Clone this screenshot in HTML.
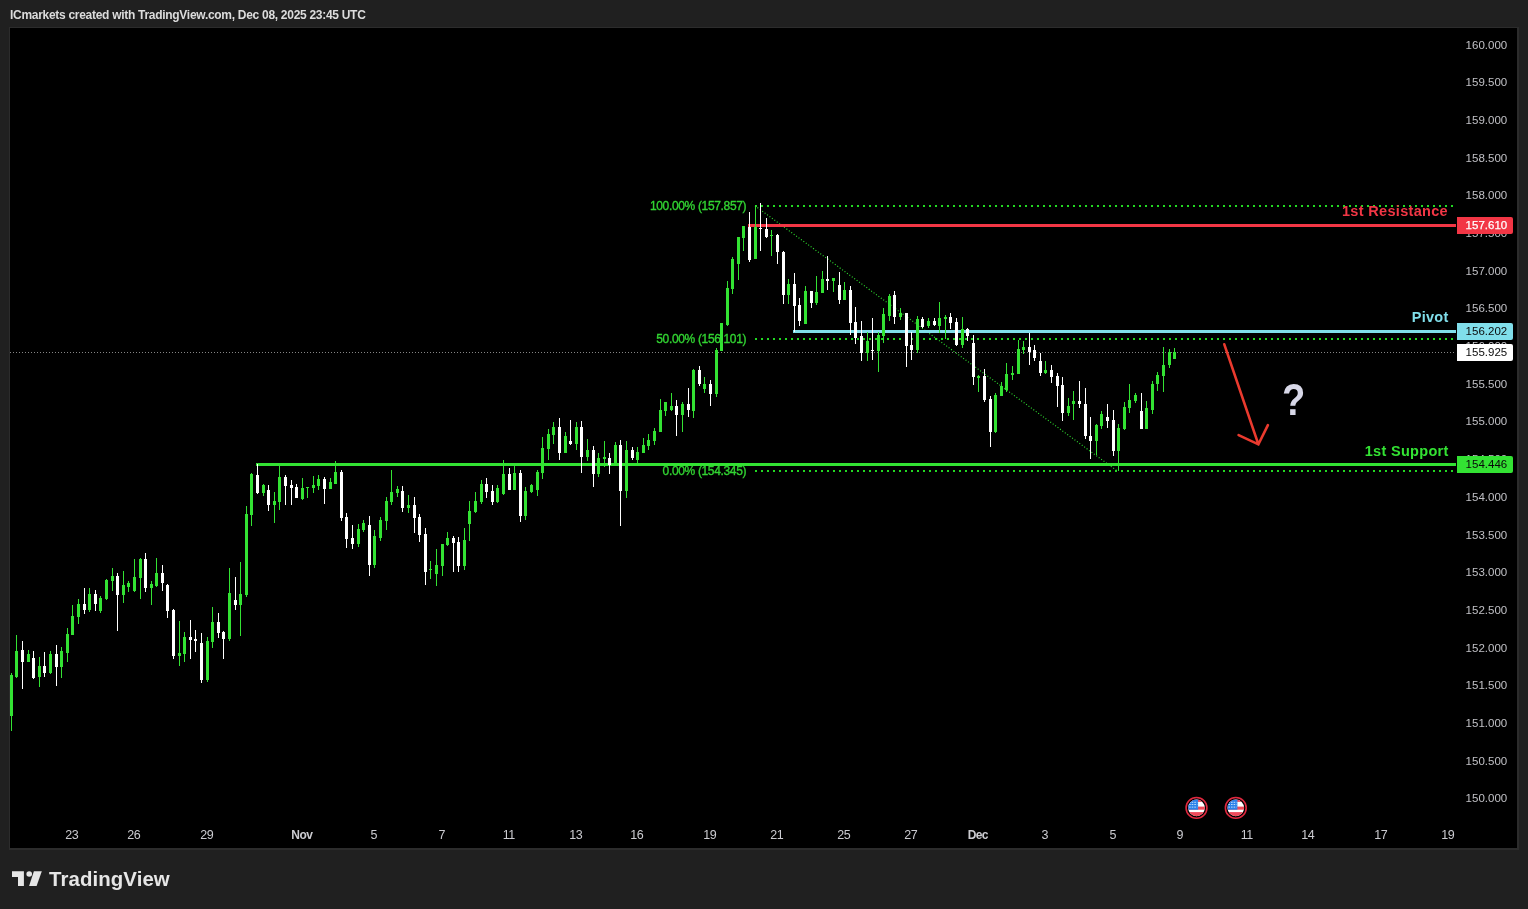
<!DOCTYPE html><html><head><meta charset="utf-8"><title>USDJPY chart</title><style>
html,body{margin:0;padding:0;background:#202020;}
body{width:1528px;height:909px;overflow:hidden;position:relative;font-family:"Liberation Sans",sans-serif;}
svg{position:absolute;left:0;top:0;}
.t{position:absolute;white-space:nowrap;line-height:1;}
.hdr{left:10px;top:8.6px;font-size:12px;font-weight:bold;color:#dcdcdc;letter-spacing:-0.29px;}
.ax{font-size:11.5px;letter-spacing:0px;color:#c0c0c5;width:50.2px;left:1457px;text-align:right;}
.pl{font-size:11.5px;letter-spacing:0px;width:50.2px;padding-right:5.8px;left:1457px;text-align:right;}
.tm{font-size:12.5px;letter-spacing:-0.4px;color:#cbcbd0;transform:translateX(-50%);}
.fib{font-size:12px;letter-spacing:-0.34px;-webkit-text-stroke:0.35px #32d432;color:#32d432;text-align:right;}
.lbl{font-size:14.5px;letter-spacing:0.32px;font-weight:bold;text-align:right;}
.tv{left:49px;top:868.6px;font-size:20.4px;font-weight:bold;color:#e6e6e6;letter-spacing:0.1px;}
.q{font-size:41px;font-weight:bold;color:#d8d8e8;transform:scale(0.93,1.066);transform-origin:50% 0;}

</style></head><body>
<svg width="1528" height="909" viewBox="0 0 1528 909" shape-rendering="crispEdges">
<rect x="9" y="27" width="1510" height="823" fill="#2c2c2c"/><rect x="10" y="28" width="1507.4" height="820" fill="#000"/>
<line x1="10" x2="1455" y1="352.5" y2="352.5" stroke="#858585" stroke-width="1" stroke-dasharray="1 2"/>
<line x1="755" x2="1455" y1="205.9" y2="205.9" stroke="#22d822" stroke-width="2" stroke-dasharray="2 4"/>
<line x1="755" x2="1455" y1="339.0" y2="339.0" stroke="#22d822" stroke-width="2" stroke-dasharray="2 4"/>
<line x1="755" x2="1455" y1="470.8" y2="470.8" stroke="#22d822" stroke-width="2" stroke-dasharray="2 4"/>
<line x1="755" y1="205.8" x2="1117" y2="470.8" stroke="#30e030" stroke-width="1.15" stroke-dasharray="1 2" shape-rendering="auto"/>
<rect x="748" y="224" width="708" height="3" fill="#f23645"/>
<rect x="793" y="330" width="663" height="3" fill="#80deea"/>
<rect x="256" y="463" width="1200" height="3" fill="#33e233"/>
<rect x="11" y="673" width="1" height="58" fill="#33e233"/>
<rect x="10" y="675" width="3" height="41" fill="#33e233"/>
<rect x="16" y="635" width="1" height="43" fill="#33e233"/>
<rect x="15" y="651" width="3" height="26" fill="#33e233"/>
<rect x="22" y="641" width="1" height="48" fill="#ffffff"/>
<rect x="21" y="650" width="3" height="12" fill="#ffffff"/>
<rect x="28" y="650" width="1" height="12" fill="#33e233"/>
<rect x="27" y="654" width="3" height="8" fill="#33e233"/>
<rect x="33" y="651" width="1" height="28" fill="#ffffff"/>
<rect x="32" y="658" width="3" height="20" fill="#ffffff"/>
<rect x="39" y="657" width="1" height="30" fill="#33e233"/>
<rect x="38" y="666" width="3" height="11" fill="#33e233"/>
<rect x="44" y="652" width="1" height="25" fill="#ffffff"/>
<rect x="43" y="666" width="3" height="7" fill="#ffffff"/>
<rect x="50" y="651" width="1" height="23" fill="#33e233"/>
<rect x="49" y="654" width="3" height="19" fill="#33e233"/>
<rect x="56" y="645" width="1" height="41" fill="#ffffff"/>
<rect x="55" y="654" width="3" height="13" fill="#ffffff"/>
<rect x="61" y="647" width="1" height="31" fill="#33e233"/>
<rect x="60" y="651" width="3" height="16" fill="#33e233"/>
<rect x="67" y="628" width="1" height="34" fill="#33e233"/>
<rect x="66" y="634" width="3" height="19" fill="#33e233"/>
<rect x="72" y="605" width="1" height="30" fill="#33e233"/>
<rect x="71" y="616" width="3" height="19" fill="#33e233"/>
<rect x="78" y="599" width="1" height="25" fill="#33e233"/>
<rect x="77" y="604" width="3" height="13" fill="#33e233"/>
<rect x="84" y="588" width="1" height="26" fill="#ffffff"/>
<rect x="83" y="604" width="3" height="6" fill="#ffffff"/>
<rect x="89" y="588" width="1" height="24" fill="#33e233"/>
<rect x="88" y="594" width="3" height="16" fill="#33e233"/>
<rect x="95" y="590" width="1" height="21" fill="#ffffff"/>
<rect x="94" y="594" width="3" height="10" fill="#ffffff"/>
<rect x="100" y="596" width="1" height="17" fill="#33e233"/>
<rect x="99" y="598" width="3" height="13" fill="#33e233"/>
<rect x="106" y="579" width="1" height="21" fill="#33e233"/>
<rect x="105" y="580" width="3" height="19" fill="#33e233"/>
<rect x="112" y="568" width="1" height="23" fill="#33e233"/>
<rect x="111" y="576" width="3" height="5" fill="#33e233"/>
<rect x="117" y="573" width="1" height="58" fill="#ffffff"/>
<rect x="116" y="576" width="3" height="19" fill="#ffffff"/>
<rect x="123" y="571" width="1" height="32" fill="#33e233"/>
<rect x="122" y="585" width="3" height="10" fill="#33e233"/>
<rect x="128" y="581" width="1" height="11" fill="#33e233"/>
<rect x="127" y="583" width="3" height="4" fill="#33e233"/>
<rect x="134" y="559" width="1" height="33" fill="#33e233"/>
<rect x="133" y="577" width="3" height="14" fill="#33e233"/>
<rect x="140" y="558" width="1" height="41" fill="#33e233"/>
<rect x="139" y="559" width="3" height="19" fill="#33e233"/>
<rect x="145" y="553" width="1" height="39" fill="#ffffff"/>
<rect x="144" y="559" width="3" height="29" fill="#ffffff"/>
<rect x="151" y="581" width="1" height="24" fill="#33e233"/>
<rect x="150" y="584" width="3" height="4" fill="#33e233"/>
<rect x="156" y="558" width="1" height="29" fill="#33e233"/>
<rect x="155" y="573" width="3" height="13" fill="#33e233"/>
<rect x="162" y="565" width="1" height="26" fill="#ffffff"/>
<rect x="161" y="573" width="3" height="10" fill="#ffffff"/>
<rect x="167" y="584" width="1" height="34" fill="#ffffff"/>
<rect x="166" y="585" width="3" height="26" fill="#ffffff"/>
<rect x="173" y="609" width="1" height="50" fill="#ffffff"/>
<rect x="172" y="610" width="3" height="46" fill="#ffffff"/>
<rect x="179" y="621" width="1" height="45" fill="#33e233"/>
<rect x="178" y="653" width="3" height="3" fill="#33e233"/>
<rect x="184" y="632" width="1" height="30" fill="#33e233"/>
<rect x="183" y="637" width="3" height="17" fill="#33e233"/>
<rect x="190" y="620" width="1" height="39" fill="#ffffff"/>
<rect x="189" y="637" width="3" height="3" fill="#ffffff"/>
<rect x="195" y="630" width="1" height="22" fill="#ffffff"/>
<rect x="194" y="639" width="3" height="2" fill="#ffffff"/>
<rect x="201" y="633" width="1" height="50" fill="#ffffff"/>
<rect x="200" y="643" width="3" height="37" fill="#ffffff"/>
<rect x="207" y="637" width="1" height="45" fill="#33e233"/>
<rect x="206" y="641" width="3" height="39" fill="#33e233"/>
<rect x="212" y="607" width="1" height="41" fill="#33e233"/>
<rect x="211" y="622" width="3" height="20" fill="#33e233"/>
<rect x="218" y="613" width="1" height="25" fill="#ffffff"/>
<rect x="217" y="622" width="3" height="11" fill="#ffffff"/>
<rect x="223" y="631" width="1" height="28" fill="#ffffff"/>
<rect x="222" y="632" width="3" height="7" fill="#ffffff"/>
<rect x="229" y="568" width="1" height="73" fill="#33e233"/>
<rect x="228" y="593" width="3" height="46" fill="#33e233"/>
<rect x="235" y="577" width="1" height="33" fill="#ffffff"/>
<rect x="234" y="600" width="3" height="5" fill="#ffffff"/>
<rect x="240" y="562" width="1" height="74" fill="#33e233"/>
<rect x="239" y="594" width="3" height="11" fill="#33e233"/>
<rect x="246" y="506" width="1" height="91" fill="#33e233"/>
<rect x="245" y="514" width="3" height="81" fill="#33e233"/>
<rect x="251" y="473" width="1" height="53" fill="#33e233"/>
<rect x="250" y="474" width="3" height="41" fill="#33e233"/>
<rect x="257" y="464" width="1" height="30" fill="#ffffff"/>
<rect x="256" y="475" width="3" height="18" fill="#ffffff"/>
<rect x="263" y="484" width="1" height="12" fill="#33e233"/>
<rect x="262" y="485" width="3" height="8" fill="#33e233"/>
<rect x="268" y="485" width="1" height="26" fill="#ffffff"/>
<rect x="267" y="490" width="3" height="15" fill="#ffffff"/>
<rect x="274" y="492" width="1" height="31" fill="#33e233"/>
<rect x="273" y="501" width="3" height="4" fill="#33e233"/>
<rect x="279" y="465" width="1" height="45" fill="#33e233"/>
<rect x="278" y="477" width="3" height="25" fill="#33e233"/>
<rect x="285" y="475" width="1" height="30" fill="#ffffff"/>
<rect x="284" y="477" width="3" height="9" fill="#ffffff"/>
<rect x="291" y="480" width="1" height="25" fill="#ffffff"/>
<rect x="290" y="485" width="3" height="3" fill="#ffffff"/>
<rect x="296" y="484" width="1" height="14" fill="#ffffff"/>
<rect x="295" y="487" width="3" height="11" fill="#ffffff"/>
<rect x="302" y="478" width="1" height="22" fill="#33e233"/>
<rect x="301" y="488" width="3" height="11" fill="#33e233"/>
<rect x="307" y="487" width="1" height="11" fill="#33e233"/>
<rect x="306" y="487" width="3" height="1" fill="#33e233"/>
<rect x="313" y="476" width="1" height="17" fill="#33e233"/>
<rect x="312" y="485" width="3" height="3" fill="#33e233"/>
<rect x="318" y="475" width="1" height="15" fill="#33e233"/>
<rect x="317" y="479" width="3" height="7" fill="#33e233"/>
<rect x="324" y="477" width="1" height="27" fill="#ffffff"/>
<rect x="323" y="479" width="3" height="10" fill="#ffffff"/>
<rect x="330" y="478" width="1" height="11" fill="#33e233"/>
<rect x="329" y="482" width="3" height="7" fill="#33e233"/>
<rect x="335" y="461" width="1" height="23" fill="#33e233"/>
<rect x="334" y="472" width="3" height="12" fill="#33e233"/>
<rect x="341" y="470" width="1" height="51" fill="#ffffff"/>
<rect x="340" y="472" width="3" height="46" fill="#ffffff"/>
<rect x="346" y="513" width="1" height="35" fill="#ffffff"/>
<rect x="345" y="517" width="3" height="22" fill="#ffffff"/>
<rect x="352" y="525" width="1" height="24" fill="#ffffff"/>
<rect x="351" y="538" width="3" height="6" fill="#ffffff"/>
<rect x="358" y="524" width="1" height="23" fill="#33e233"/>
<rect x="357" y="529" width="3" height="15" fill="#33e233"/>
<rect x="363" y="520" width="1" height="12" fill="#33e233"/>
<rect x="362" y="523" width="3" height="7" fill="#33e233"/>
<rect x="369" y="516" width="1" height="60" fill="#ffffff"/>
<rect x="368" y="525" width="3" height="40" fill="#ffffff"/>
<rect x="374" y="530" width="1" height="38" fill="#33e233"/>
<rect x="373" y="536" width="3" height="29" fill="#33e233"/>
<rect x="380" y="517" width="1" height="24" fill="#33e233"/>
<rect x="379" y="520" width="3" height="18" fill="#33e233"/>
<rect x="386" y="497" width="1" height="33" fill="#33e233"/>
<rect x="385" y="501" width="3" height="20" fill="#33e233"/>
<rect x="391" y="470" width="1" height="35" fill="#33e233"/>
<rect x="390" y="492" width="3" height="10" fill="#33e233"/>
<rect x="397" y="486" width="1" height="11" fill="#33e233"/>
<rect x="396" y="489" width="3" height="4" fill="#33e233"/>
<rect x="402" y="486" width="1" height="26" fill="#ffffff"/>
<rect x="401" y="491" width="3" height="17" fill="#ffffff"/>
<rect x="408" y="495" width="1" height="18" fill="#33e233"/>
<rect x="407" y="505" width="3" height="3" fill="#33e233"/>
<rect x="414" y="497" width="1" height="36" fill="#ffffff"/>
<rect x="413" y="505" width="3" height="13" fill="#ffffff"/>
<rect x="419" y="514" width="1" height="28" fill="#ffffff"/>
<rect x="418" y="517" width="3" height="18" fill="#ffffff"/>
<rect x="425" y="528" width="1" height="57" fill="#ffffff"/>
<rect x="424" y="534" width="3" height="38" fill="#ffffff"/>
<rect x="430" y="561" width="1" height="18" fill="#33e233"/>
<rect x="429" y="569" width="3" height="1" fill="#33e233"/>
<rect x="436" y="549" width="1" height="37" fill="#33e233"/>
<rect x="435" y="565" width="3" height="9" fill="#33e233"/>
<rect x="442" y="544" width="1" height="32" fill="#33e233"/>
<rect x="441" y="544" width="3" height="22" fill="#33e233"/>
<rect x="447" y="532" width="1" height="14" fill="#33e233"/>
<rect x="446" y="538" width="3" height="7" fill="#33e233"/>
<rect x="453" y="536" width="1" height="36" fill="#ffffff"/>
<rect x="452" y="538" width="3" height="5" fill="#ffffff"/>
<rect x="458" y="537" width="1" height="35" fill="#ffffff"/>
<rect x="457" y="542" width="3" height="24" fill="#ffffff"/>
<rect x="464" y="528" width="1" height="42" fill="#33e233"/>
<rect x="463" y="540" width="3" height="26" fill="#33e233"/>
<rect x="469" y="501" width="1" height="40" fill="#33e233"/>
<rect x="468" y="511" width="3" height="13" fill="#33e233"/>
<rect x="475" y="492" width="1" height="21" fill="#33e233"/>
<rect x="474" y="501" width="3" height="11" fill="#33e233"/>
<rect x="481" y="480" width="1" height="24" fill="#33e233"/>
<rect x="480" y="484" width="3" height="18" fill="#33e233"/>
<rect x="486" y="478" width="1" height="20" fill="#ffffff"/>
<rect x="485" y="484" width="3" height="8" fill="#ffffff"/>
<rect x="492" y="485" width="1" height="20" fill="#ffffff"/>
<rect x="491" y="491" width="3" height="11" fill="#ffffff"/>
<rect x="497" y="485" width="1" height="18" fill="#33e233"/>
<rect x="496" y="488" width="3" height="14" fill="#33e233"/>
<rect x="503" y="460" width="1" height="35" fill="#33e233"/>
<rect x="502" y="474" width="3" height="20" fill="#33e233"/>
<rect x="509" y="468" width="1" height="22" fill="#ffffff"/>
<rect x="508" y="474" width="3" height="16" fill="#ffffff"/>
<rect x="514" y="466" width="1" height="24" fill="#33e233"/>
<rect x="513" y="473" width="3" height="17" fill="#33e233"/>
<rect x="520" y="470" width="1" height="52" fill="#ffffff"/>
<rect x="519" y="473" width="3" height="43" fill="#ffffff"/>
<rect x="525" y="487" width="1" height="33" fill="#33e233"/>
<rect x="524" y="491" width="3" height="25" fill="#33e233"/>
<rect x="531" y="484" width="1" height="9" fill="#33e233"/>
<rect x="530" y="485" width="3" height="7" fill="#33e233"/>
<rect x="537" y="470" width="1" height="26" fill="#33e233"/>
<rect x="536" y="472" width="3" height="18" fill="#33e233"/>
<rect x="542" y="437" width="1" height="42" fill="#33e233"/>
<rect x="541" y="448" width="3" height="25" fill="#33e233"/>
<rect x="548" y="429" width="1" height="31" fill="#33e233"/>
<rect x="547" y="434" width="3" height="15" fill="#33e233"/>
<rect x="553" y="422" width="1" height="22" fill="#33e233"/>
<rect x="552" y="427" width="3" height="8" fill="#33e233"/>
<rect x="559" y="418" width="1" height="42" fill="#ffffff"/>
<rect x="558" y="427" width="3" height="26" fill="#ffffff"/>
<rect x="565" y="432" width="1" height="21" fill="#33e233"/>
<rect x="564" y="436" width="3" height="17" fill="#33e233"/>
<rect x="570" y="420" width="1" height="25" fill="#ffffff"/>
<rect x="569" y="441" width="3" height="3" fill="#ffffff"/>
<rect x="576" y="422" width="1" height="28" fill="#33e233"/>
<rect x="575" y="427" width="3" height="17" fill="#33e233"/>
<rect x="581" y="421" width="1" height="52" fill="#ffffff"/>
<rect x="580" y="427" width="3" height="30" fill="#ffffff"/>
<rect x="587" y="439" width="1" height="22" fill="#33e233"/>
<rect x="586" y="450" width="3" height="7" fill="#33e233"/>
<rect x="593" y="446" width="1" height="41" fill="#ffffff"/>
<rect x="592" y="450" width="3" height="24" fill="#ffffff"/>
<rect x="598" y="453" width="1" height="24" fill="#33e233"/>
<rect x="597" y="458" width="3" height="16" fill="#33e233"/>
<rect x="604" y="441" width="1" height="26" fill="#33e233"/>
<rect x="603" y="457" width="3" height="2" fill="#33e233"/>
<rect x="609" y="453" width="1" height="21" fill="#ffffff"/>
<rect x="608" y="458" width="3" height="7" fill="#ffffff"/>
<rect x="615" y="442" width="1" height="23" fill="#33e233"/>
<rect x="614" y="445" width="3" height="19" fill="#33e233"/>
<rect x="620" y="440" width="1" height="86" fill="#ffffff"/>
<rect x="619" y="445" width="3" height="46" fill="#ffffff"/>
<rect x="626" y="441" width="1" height="57" fill="#33e233"/>
<rect x="625" y="450" width="3" height="41" fill="#33e233"/>
<rect x="632" y="447" width="1" height="13" fill="#ffffff"/>
<rect x="631" y="450" width="3" height="8" fill="#ffffff"/>
<rect x="637" y="447" width="1" height="16" fill="#33e233"/>
<rect x="636" y="452" width="3" height="8" fill="#33e233"/>
<rect x="643" y="438" width="1" height="15" fill="#33e233"/>
<rect x="642" y="445" width="3" height="8" fill="#33e233"/>
<rect x="648" y="434" width="1" height="16" fill="#33e233"/>
<rect x="647" y="440" width="3" height="6" fill="#33e233"/>
<rect x="654" y="428" width="1" height="17" fill="#33e233"/>
<rect x="653" y="431" width="3" height="10" fill="#33e233"/>
<rect x="660" y="399" width="1" height="33" fill="#33e233"/>
<rect x="659" y="410" width="3" height="22" fill="#33e233"/>
<rect x="665" y="402" width="1" height="14" fill="#33e233"/>
<rect x="664" y="402" width="3" height="9" fill="#33e233"/>
<rect x="671" y="393" width="1" height="18" fill="#33e233"/>
<rect x="670" y="406" width="3" height="4" fill="#33e233"/>
<rect x="676" y="400" width="1" height="36" fill="#ffffff"/>
<rect x="675" y="406" width="3" height="9" fill="#ffffff"/>
<rect x="682" y="402" width="1" height="30" fill="#33e233"/>
<rect x="681" y="404" width="3" height="11" fill="#33e233"/>
<rect x="688" y="388" width="1" height="29" fill="#ffffff"/>
<rect x="687" y="404" width="3" height="6" fill="#ffffff"/>
<rect x="693" y="369" width="1" height="49" fill="#33e233"/>
<rect x="692" y="370" width="3" height="41" fill="#33e233"/>
<rect x="699" y="366" width="1" height="20" fill="#ffffff"/>
<rect x="698" y="370" width="3" height="14" fill="#ffffff"/>
<rect x="704" y="377" width="1" height="16" fill="#33e233"/>
<rect x="703" y="384" width="3" height="5" fill="#33e233"/>
<rect x="710" y="380" width="1" height="26" fill="#ffffff"/>
<rect x="709" y="384" width="3" height="10" fill="#ffffff"/>
<rect x="716" y="348" width="1" height="49" fill="#33e233"/>
<rect x="715" y="350" width="3" height="44" fill="#33e233"/>
<rect x="721" y="323" width="1" height="28" fill="#33e233"/>
<rect x="720" y="323" width="3" height="28" fill="#33e233"/>
<rect x="727" y="281" width="1" height="45" fill="#33e233"/>
<rect x="726" y="288" width="3" height="37" fill="#33e233"/>
<rect x="732" y="257" width="1" height="37" fill="#33e233"/>
<rect x="731" y="259" width="3" height="30" fill="#33e233"/>
<rect x="738" y="237" width="1" height="43" fill="#33e233"/>
<rect x="737" y="237" width="3" height="27" fill="#33e233"/>
<rect x="743" y="226" width="1" height="25" fill="#33e233"/>
<rect x="742" y="226" width="3" height="12" fill="#33e233"/>
<rect x="749" y="212" width="1" height="50" fill="#ffffff"/>
<rect x="748" y="227" width="3" height="33" fill="#ffffff"/>
<rect x="755" y="205" width="1" height="54" fill="#33e233"/>
<rect x="754" y="227" width="3" height="32" fill="#33e233"/>
<rect x="760" y="203" width="1" height="48" fill="#ffffff"/>
<rect x="759" y="228" width="3" height="1" fill="#ffffff"/>
<rect x="766" y="218" width="1" height="20" fill="#ffffff"/>
<rect x="765" y="229" width="3" height="8" fill="#ffffff"/>
<rect x="771" y="230" width="1" height="26" fill="#33e233"/>
<rect x="770" y="235" width="3" height="1" fill="#33e233"/>
<rect x="777" y="234" width="1" height="30" fill="#ffffff"/>
<rect x="776" y="235" width="3" height="17" fill="#ffffff"/>
<rect x="783" y="251" width="1" height="53" fill="#ffffff"/>
<rect x="782" y="252" width="3" height="43" fill="#ffffff"/>
<rect x="788" y="279" width="1" height="25" fill="#33e233"/>
<rect x="787" y="284" width="3" height="11" fill="#33e233"/>
<rect x="794" y="273" width="1" height="59" fill="#ffffff"/>
<rect x="793" y="284" width="3" height="22" fill="#ffffff"/>
<rect x="799" y="298" width="1" height="28" fill="#ffffff"/>
<rect x="798" y="305" width="3" height="16" fill="#ffffff"/>
<rect x="805" y="286" width="1" height="38" fill="#33e233"/>
<rect x="804" y="291" width="3" height="33" fill="#33e233"/>
<rect x="811" y="291" width="1" height="17" fill="#ffffff"/>
<rect x="810" y="291" width="3" height="12" fill="#ffffff"/>
<rect x="816" y="276" width="1" height="29" fill="#33e233"/>
<rect x="815" y="292" width="3" height="11" fill="#33e233"/>
<rect x="822" y="271" width="1" height="22" fill="#33e233"/>
<rect x="821" y="279" width="3" height="14" fill="#33e233"/>
<rect x="827" y="256" width="1" height="34" fill="#ffffff"/>
<rect x="826" y="279" width="3" height="2" fill="#ffffff"/>
<rect x="833" y="278" width="1" height="14" fill="#33e233"/>
<rect x="832" y="278" width="3" height="3" fill="#33e233"/>
<rect x="839" y="272" width="1" height="32" fill="#ffffff"/>
<rect x="838" y="285" width="3" height="15" fill="#ffffff"/>
<rect x="844" y="282" width="1" height="18" fill="#33e233"/>
<rect x="843" y="290" width="3" height="10" fill="#33e233"/>
<rect x="850" y="286" width="1" height="49" fill="#ffffff"/>
<rect x="849" y="290" width="3" height="33" fill="#ffffff"/>
<rect x="855" y="307" width="1" height="37" fill="#ffffff"/>
<rect x="854" y="322" width="3" height="16" fill="#ffffff"/>
<rect x="861" y="321" width="1" height="40" fill="#ffffff"/>
<rect x="860" y="336" width="3" height="17" fill="#ffffff"/>
<rect x="867" y="332" width="1" height="29" fill="#33e233"/>
<rect x="866" y="341" width="3" height="12" fill="#33e233"/>
<rect x="872" y="318" width="1" height="42" fill="#ffffff"/>
<rect x="871" y="350" width="3" height="1" fill="#ffffff"/>
<rect x="878" y="332" width="1" height="40" fill="#33e233"/>
<rect x="877" y="335" width="3" height="16" fill="#33e233"/>
<rect x="883" y="308" width="1" height="35" fill="#33e233"/>
<rect x="882" y="314" width="3" height="22" fill="#33e233"/>
<rect x="889" y="294" width="1" height="27" fill="#33e233"/>
<rect x="888" y="296" width="3" height="20" fill="#33e233"/>
<rect x="894" y="291" width="1" height="33" fill="#ffffff"/>
<rect x="893" y="295" width="3" height="22" fill="#ffffff"/>
<rect x="900" y="308" width="1" height="12" fill="#33e233"/>
<rect x="899" y="313" width="3" height="4" fill="#33e233"/>
<rect x="906" y="313" width="1" height="54" fill="#ffffff"/>
<rect x="905" y="313" width="3" height="33" fill="#ffffff"/>
<rect x="911" y="332" width="1" height="28" fill="#ffffff"/>
<rect x="910" y="345" width="3" height="5" fill="#ffffff"/>
<rect x="917" y="316" width="1" height="37" fill="#33e233"/>
<rect x="916" y="319" width="3" height="31" fill="#33e233"/>
<rect x="922" y="317" width="1" height="11" fill="#ffffff"/>
<rect x="921" y="319" width="3" height="8" fill="#ffffff"/>
<rect x="928" y="318" width="1" height="10" fill="#33e233"/>
<rect x="927" y="321" width="3" height="5" fill="#33e233"/>
<rect x="934" y="318" width="1" height="8" fill="#ffffff"/>
<rect x="933" y="321" width="3" height="4" fill="#ffffff"/>
<rect x="939" y="302" width="1" height="31" fill="#33e233"/>
<rect x="938" y="318" width="3" height="8" fill="#33e233"/>
<rect x="945" y="315" width="1" height="24" fill="#33e233"/>
<rect x="944" y="317" width="3" height="2" fill="#33e233"/>
<rect x="950" y="313" width="1" height="16" fill="#ffffff"/>
<rect x="949" y="317" width="3" height="6" fill="#ffffff"/>
<rect x="956" y="318" width="1" height="28" fill="#ffffff"/>
<rect x="955" y="322" width="3" height="23" fill="#ffffff"/>
<rect x="962" y="317" width="1" height="31" fill="#33e233"/>
<rect x="961" y="329" width="3" height="16" fill="#33e233"/>
<rect x="967" y="328" width="1" height="13" fill="#ffffff"/>
<rect x="966" y="329" width="3" height="7" fill="#ffffff"/>
<rect x="973" y="335" width="1" height="50" fill="#ffffff"/>
<rect x="972" y="343" width="3" height="34" fill="#ffffff"/>
<rect x="978" y="375" width="1" height="17" fill="#33e233"/>
<rect x="977" y="376" width="3" height="2" fill="#33e233"/>
<rect x="984" y="369" width="1" height="33" fill="#ffffff"/>
<rect x="983" y="376" width="3" height="24" fill="#ffffff"/>
<rect x="990" y="396" width="1" height="51" fill="#ffffff"/>
<rect x="989" y="399" width="3" height="33" fill="#ffffff"/>
<rect x="995" y="393" width="1" height="40" fill="#33e233"/>
<rect x="994" y="395" width="3" height="37" fill="#33e233"/>
<rect x="1001" y="382" width="1" height="14" fill="#33e233"/>
<rect x="1000" y="386" width="3" height="10" fill="#33e233"/>
<rect x="1006" y="363" width="1" height="29" fill="#33e233"/>
<rect x="1005" y="374" width="3" height="16" fill="#33e233"/>
<rect x="1012" y="366" width="1" height="14" fill="#33e233"/>
<rect x="1011" y="373" width="3" height="2" fill="#33e233"/>
<rect x="1018" y="340" width="1" height="34" fill="#33e233"/>
<rect x="1017" y="349" width="3" height="25" fill="#33e233"/>
<rect x="1023" y="341" width="1" height="13" fill="#33e233"/>
<rect x="1022" y="347" width="3" height="3" fill="#33e233"/>
<rect x="1029" y="333" width="1" height="32" fill="#ffffff"/>
<rect x="1028" y="347" width="3" height="5" fill="#ffffff"/>
<rect x="1034" y="345" width="1" height="16" fill="#ffffff"/>
<rect x="1033" y="350" width="3" height="8" fill="#ffffff"/>
<rect x="1040" y="353" width="1" height="23" fill="#ffffff"/>
<rect x="1039" y="361" width="3" height="12" fill="#ffffff"/>
<rect x="1045" y="361" width="1" height="13" fill="#33e233"/>
<rect x="1044" y="370" width="3" height="3" fill="#33e233"/>
<rect x="1051" y="365" width="1" height="18" fill="#ffffff"/>
<rect x="1050" y="370" width="3" height="7" fill="#ffffff"/>
<rect x="1057" y="373" width="1" height="34" fill="#ffffff"/>
<rect x="1056" y="376" width="3" height="10" fill="#ffffff"/>
<rect x="1062" y="377" width="1" height="44" fill="#ffffff"/>
<rect x="1061" y="385" width="3" height="28" fill="#ffffff"/>
<rect x="1068" y="398" width="1" height="18" fill="#33e233"/>
<rect x="1067" y="406" width="3" height="7" fill="#33e233"/>
<rect x="1073" y="391" width="1" height="29" fill="#33e233"/>
<rect x="1072" y="401" width="3" height="3" fill="#33e233"/>
<rect x="1079" y="381" width="1" height="27" fill="#ffffff"/>
<rect x="1078" y="401" width="3" height="3" fill="#ffffff"/>
<rect x="1085" y="388" width="1" height="51" fill="#ffffff"/>
<rect x="1084" y="404" width="3" height="32" fill="#ffffff"/>
<rect x="1090" y="417" width="1" height="42" fill="#ffffff"/>
<rect x="1089" y="436" width="3" height="5" fill="#ffffff"/>
<rect x="1096" y="424" width="1" height="31" fill="#33e233"/>
<rect x="1095" y="425" width="3" height="16" fill="#33e233"/>
<rect x="1101" y="411" width="1" height="18" fill="#33e233"/>
<rect x="1100" y="414" width="3" height="12" fill="#33e233"/>
<rect x="1107" y="404" width="1" height="24" fill="#ffffff"/>
<rect x="1106" y="417" width="3" height="4" fill="#ffffff"/>
<rect x="1113" y="410" width="1" height="46" fill="#ffffff"/>
<rect x="1112" y="420" width="3" height="31" fill="#ffffff"/>
<rect x="1118" y="424" width="1" height="47" fill="#33e233"/>
<rect x="1117" y="428" width="3" height="23" fill="#33e233"/>
<rect x="1124" y="402" width="1" height="28" fill="#33e233"/>
<rect x="1123" y="407" width="3" height="22" fill="#33e233"/>
<rect x="1129" y="384" width="1" height="29" fill="#33e233"/>
<rect x="1128" y="400" width="3" height="8" fill="#33e233"/>
<rect x="1135" y="393" width="1" height="10" fill="#33e233"/>
<rect x="1134" y="395" width="3" height="6" fill="#33e233"/>
<rect x="1141" y="393" width="1" height="36" fill="#ffffff"/>
<rect x="1140" y="411" width="3" height="18" fill="#ffffff"/>
<rect x="1146" y="401" width="1" height="28" fill="#33e233"/>
<rect x="1145" y="408" width="3" height="21" fill="#33e233"/>
<rect x="1152" y="381" width="1" height="33" fill="#33e233"/>
<rect x="1151" y="384" width="3" height="26" fill="#33e233"/>
<rect x="1157" y="372" width="1" height="19" fill="#33e233"/>
<rect x="1156" y="375" width="3" height="9" fill="#33e233"/>
<rect x="1163" y="347" width="1" height="45" fill="#33e233"/>
<rect x="1162" y="365" width="3" height="11" fill="#33e233"/>
<rect x="1169" y="349" width="1" height="19" fill="#33e233"/>
<rect x="1168" y="352" width="3" height="13" fill="#33e233"/>
<rect x="1174" y="348" width="1" height="11" fill="#33e233"/>
<rect x="1173" y="352" width="3" height="7" fill="#33e233"/>
<g stroke="#ea3a2e" stroke-width="2.6" stroke-linecap="round" fill="none" shape-rendering="auto"><path d="M1224.3 344.3 L1258.4 444.4 M1238.6 435.1 L1258.4 444.4 L1267.9 425.1"/></g>
<g shape-rendering="auto"><circle cx="1196.5" cy="807.9" r="10.4" fill="none" stroke="#e0283f" stroke-width="1.6"/><clipPath id="fc1196"><circle cx="1196.5" cy="807.9" r="8.3"/></clipPath><g clip-path="url(#fc1196)"><rect x="1187.5" y="798.9" width="18" height="18" fill="#fff"/><rect x="1187.5" y="799.3" width="18" height="2.6" fill="#ee4a5a"/><rect x="1187.5" y="806.6" width="18" height="3.1" fill="#ee4a5a"/><rect x="1187.5" y="812.1" width="18" height="4.6" fill="#ee4a5a"/><rect x="1187.5" y="799.3" width="10.6" height="10.4" fill="#2a82ea"/><line x1="1189.1" x2="1197.3" y1="802.3" y2="802.3" stroke="#cfe4fb" stroke-width="0.9" stroke-dasharray="1.6 1"/><line x1="1189.1" x2="1197.3" y1="804.5" y2="804.5" stroke="#cfe4fb" stroke-width="0.9" stroke-dasharray="1.6 1"/><line x1="1189.1" x2="1197.3" y1="807.1" y2="807.1" stroke="#cfe4fb" stroke-width="0.9" stroke-dasharray="1.6 1"/></g></g>
<g shape-rendering="auto"><circle cx="1235.8" cy="807.9" r="10.4" fill="none" stroke="#e0283f" stroke-width="1.6"/><clipPath id="fc1235"><circle cx="1235.8" cy="807.9" r="8.3"/></clipPath><g clip-path="url(#fc1235)"><rect x="1226.8" y="798.9" width="18" height="18" fill="#fff"/><rect x="1226.8" y="799.3" width="18" height="2.6" fill="#ee4a5a"/><rect x="1226.8" y="806.6" width="18" height="3.1" fill="#ee4a5a"/><rect x="1226.8" y="812.1" width="18" height="4.6" fill="#ee4a5a"/><rect x="1226.8" y="799.3" width="10.6" height="10.4" fill="#2a82ea"/><line x1="1228.4" x2="1236.6" y1="802.3" y2="802.3" stroke="#cfe4fb" stroke-width="0.9" stroke-dasharray="1.6 1"/><line x1="1228.4" x2="1236.6" y1="804.5" y2="804.5" stroke="#cfe4fb" stroke-width="0.9" stroke-dasharray="1.6 1"/><line x1="1228.4" x2="1236.6" y1="807.1" y2="807.1" stroke="#cfe4fb" stroke-width="0.9" stroke-dasharray="1.6 1"/></g></g>
<g fill="#e6e6e6" shape-rendering="auto"><path d="M12 871.2 H23.9 V885.9 H18 V877.1 H12 Z"/><circle cx="29.2" cy="874" r="2.8"/><path d="M33.9 871.2 H41.8 L36.6 885.9 H29.1 Z"/></g>
</svg>
<div class="t hdr">ICmarkets created with TradingView.com, Dec 08, 2025 23:45 UTC</div>
<div class="t ax" style="top:39.6px">160.000</div>
<div class="t ax" style="top:77.2px">159.500</div>
<div class="t ax" style="top:114.9px">159.000</div>
<div class="t ax" style="top:152.6px">158.500</div>
<div class="t ax" style="top:190.3px">158.000</div>
<div class="t ax" style="top:228.0px">157.500</div>
<div class="t ax" style="top:265.7px">157.000</div>
<div class="t ax" style="top:303.4px">156.500</div>
<div class="t ax" style="top:341.0px">156.000</div>
<div class="t ax" style="top:378.7px">155.500</div>
<div class="t ax" style="top:416.4px">155.000</div>
<div class="t ax" style="top:454.1px">154.500</div>
<div class="t ax" style="top:491.8px">154.000</div>
<div class="t ax" style="top:529.5px">153.500</div>
<div class="t ax" style="top:567.2px">153.000</div>
<div class="t ax" style="top:604.8px">152.500</div>
<div class="t ax" style="top:642.5px">152.000</div>
<div class="t ax" style="top:680.2px">151.500</div>
<div class="t ax" style="top:717.9px">151.000</div>
<div class="t ax" style="top:755.6px">150.500</div>
<div class="t ax" style="top:793.3px">150.000</div>
<div class="t pl" style="top:217.0px;color:#fff;-webkit-text-stroke:0.25px #fff;background:#f23645;border-radius:0 2px 2px 0;height:17px;line-height:17px">157.610</div>
<div class="t pl" style="top:323.0px;color:#0a0a0a;background:#80deea;border-radius:0 2px 2px 0;height:17px;line-height:17px">156.202</div>
<div class="t pl" style="top:344.0px;color:#0a0a0a;background:#fff;border-radius:0 2px 2px 0;height:17px;line-height:17px">155.925</div>
<div class="t pl" style="top:456.0px;color:#0a0a0a;background:#33e233;border-radius:0 2px 2px 0;height:17px;line-height:17px">154.446</div>
<div class="t tm" style="left:71.8px;top:828.6px">23</div>
<div class="t tm" style="left:133.8px;top:828.6px">26</div>
<div class="t tm" style="left:206.8px;top:828.6px">29</div>
<div class="t tm" style="left:301.8px;top:828.6px;font-weight:bold;font-size:12px;letter-spacing:-0.6px">Nov</div>
<div class="t tm" style="left:373.8px;top:828.6px">5</div>
<div class="t tm" style="left:441.8px;top:828.6px">7</div>
<div class="t tm" style="left:508.8px;top:828.6px">11</div>
<div class="t tm" style="left:575.8px;top:828.6px">13</div>
<div class="t tm" style="left:636.8px;top:828.6px">16</div>
<div class="t tm" style="left:709.8px;top:828.6px">19</div>
<div class="t tm" style="left:776.8px;top:828.6px">21</div>
<div class="t tm" style="left:843.8px;top:828.6px">25</div>
<div class="t tm" style="left:910.8px;top:828.6px">27</div>
<div class="t tm" style="left:977.8px;top:828.6px;font-weight:bold;font-size:12px;letter-spacing:-0.6px">Dec</div>
<div class="t tm" style="left:1044.8px;top:828.6px">3</div>
<div class="t tm" style="left:1112.8px;top:828.6px">5</div>
<div class="t tm" style="left:1179.8px;top:828.6px">9</div>
<div class="t tm" style="left:1246.8px;top:828.6px">11</div>
<div class="t tm" style="left:1307.8px;top:828.6px">14</div>
<div class="t tm" style="left:1380.8px;top:828.6px">17</div>
<div class="t tm" style="left:1447.8px;top:828.6px">19</div>
<div class="t fib" style="right:781.8px;top:199.7px">100.00% (157.857)</div>
<div class="t fib" style="right:781.8px;top:332.9px">50.00% (156.101)</div>
<div class="t fib" style="right:781.8px;top:464.9px">0.00% (154.345)</div>
<div class="t lbl" style="right:80.0px;top:204.3px;color:#f23645">1st Resistance</div>
<div class="t lbl" style="right:79.3px;top:310.2px;color:#80deea">Pivot</div>
<div class="t lbl" style="right:79.3px;top:443.7px;color:#33e233">1st Support</div>
<div class="t q" style="left:1280.5px;top:379.2px">?</div>
<div class="t tv">TradingView</div>
</body></html>
